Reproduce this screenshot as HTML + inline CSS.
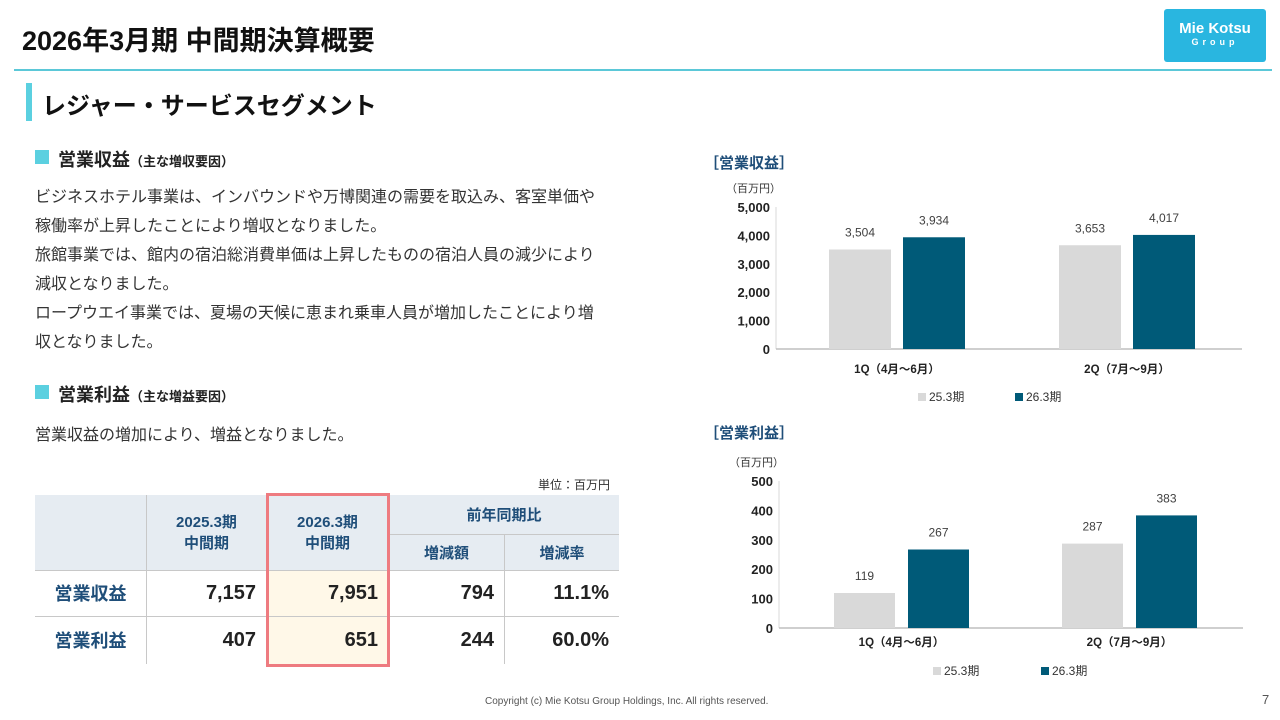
<!DOCTYPE html>
<html><head><meta charset="utf-8"><style>
body{margin:0;width:1280px;height:720px;overflow:hidden;background:#fff;font-family:"Liberation Sans","Noto Sans CJK JP",sans-serif;position:relative;color:#222}
.a{position:absolute;white-space:nowrap}
table{border-collapse:collapse;position:absolute;left:35px;top:495px;font-family:"Liberation Sans","Noto Sans CJK JP",sans-serif}
td{padding:0 10px;border:1px solid #c8c8c8;vertical-align:middle}
</style></head><body>
<div class="a" style="left:22px;top:19px;font-size:27px;font-weight:bold;color:#111">2026年3月期 中間期決算概要</div>
<div class="a" style="left:1164px;top:9px;width:102px;height:53px;background:#29b6e0;border-radius:3px;color:#fff;text-align:center">
<div style="font-size:15px;font-weight:bold;margin-top:11px">Mie Kotsu</div><div style="font-size:9px;letter-spacing:4px;font-weight:bold">Group</div></div>
<div class="a" style="left:14px;top:69px;width:1258px;height:2px;background:#5bc8d8"></div>
<div class="a" style="left:26px;top:83px;width:6px;height:38px;background:#5bd0e0"></div>
<div class="a" style="left:42px;top:86px;font-size:24px;font-weight:bold;color:#111">レジャー・サービスセグメント</div>

<div class="a" style="left:35px;top:150px;width:14px;height:14px;background:#5bd0e0"></div>
<div class="a" style="left:58px;top:146px;font-size:18px;font-weight:bold">営業収益<span style="font-size:13px">（主な増収要因）</span></div>
<div class="a" style="left:35px;top:183px;font-size:16px;line-height:29px;color:#333">ビジネスホテル事業は、インバウンドや万博関連の需要を取込み、客室単価や<br>稼働率が上昇したことにより増収となりました。<br>旅館事業では、館内の宿泊総消費単価は上昇したものの宿泊人員の減少により<br>減収となりました。<br>ロープウエイ事業では、夏場の天候に恵まれ乗車人員が増加したことにより増<br>収となりました。</div>
<div class="a" style="left:35px;top:385px;width:14px;height:14px;background:#5bd0e0"></div>
<div class="a" style="left:58px;top:381px;font-size:18px;font-weight:bold">営業利益<span style="font-size:13px">（主な増益要因）</span></div>
<div class="a" style="left:35px;top:421px;font-size:16px;color:#333">営業収益の増加により、増益となりました。</div>
<div class="a" style="left:538px;top:476px;font-size:12px;color:#333">単位：百万円</div>

<table>
<tr style="height:39px;background:#e6ecf2;color:#1f4e79;font-weight:bold;font-size:15px;text-align:center">
<td rowspan="2" style="width:91px;border-left:none;border-top:none"></td>
<td rowspan="2" style="width:99px;border-top:none">2025.3期<br>中間期</td>
<td rowspan="2" style="width:101px;border-top:none">2026.3期<br>中間期</td>
<td colspan="2" style="border-top:none;border-right:none">前年同期比</td></tr>
<tr style="height:36px;background:#e6ecf2;color:#1f4e79;font-weight:bold;font-size:15px;text-align:center">
<td style="width:95px">増減額</td><td style="width:94px;border-right:none">増減率</td></tr>
<tr style="height:46px;font-size:20px;font-weight:bold;text-align:right">
<td style="color:#1f4e79;text-align:center;border-left:none;font-size:18px">営業収益</td><td>7,157</td><td style="background:#fff8e8">7,951</td><td>794</td><td style="border-right:none">11.1%</td></tr>
<tr style="height:48px;font-size:20px;font-weight:bold;text-align:right">
<td style="color:#1f4e79;text-align:center;border-left:none;border-bottom:none;font-size:18px">営業利益</td><td style="border-bottom:none">407</td><td style="background:#fff8e8;border-bottom:none">651</td><td style="border-bottom:none">244</td><td style="border-right:none;border-bottom:none">60.0%</td></tr>
</table>
<div class="a" style="left:266px;top:493px;width:118px;height:168px;border:3px solid #ee7b80"></div>

<div class="a" style="left:485px;top:696px;font-size:10px;color:#555">Copyright (c) Mie Kotsu Group Holdings, Inc. All rights reserved.</div>
<div class="a" style="left:1262px;top:692px;font-size:13px;color:#555">7</div>

<svg id="c" width="1280" height="720" style="position:absolute;left:0;top:0" font-family="Liberation Sans, Noto Sans CJK JP, sans-serif"></svg>
<script>
const categories=["1Q（4月～6月）","2Q（7月～9月）"];
const seriesNames=["25.3期","26.3期"];
const revPrev=[3504,3653];
const revCur=[3934,4017];
const revTicks=[0,1000,2000,3000,4000,5000];
const opPrev=[119,287];
const opCur=[267,383];
const opTicks=[0,100,200,300,400,500];
const colors=["#d9d9d9","#005a78"];
const svg=document.getElementById('c');
const NS='http://www.w3.org/2000/svg';
function el(t,a,txt){const e=document.createElementNS(NS,t);for(const k in a)e.setAttribute(k,a[k]);if(txt!==undefined)e.textContent=txt;svg.appendChild(e);return e;}
function chart(cfg){
  const {title,ty,y0,y1,max,ticks,x0,x1,groupX,bw,gap,prev,cur,catY,legY,legX,name}=cfg;
  const yS=v=>y0-(v/max)*(y0-y1);
  let t=el('text',{x:704,y:ty,'font-size':15,'font-weight':'bold',fill:'#1f4e79'},title);
  
  t=el('text',{x:x0-50,y:y1-15,'font-size':11,fill:'#333'},'（百万円）');
  
  ticks.forEach(v=>{const e=el('text',{x:x0-6,y:yS(v)+5,'font-size':13,'font-weight':'bold','text-anchor':'end',fill:'#222'},v.toLocaleString('en-US'));
    });
  let l=el('line',{x1:x0,x2:x0,y1:y1,y2:y0,stroke:'#d9d9d9'});
  l=el('line',{x1:x0,x2:x1,y1:y0,y2:y0,stroke:'#bfbfbf','stroke-width':1.5});
  categories.forEach((c,i)=>{
    [prev[i],cur[i]].forEach((v,s)=>{
      const x=groupX[i]+s*(bw+gap);
      const r=el('rect',{x:x,y:yS(v),width:bw,height:y0-yS(v),fill:colors[s]});
      
      const tx=el('text',{x:x+bw/2,y:yS(v)-13,'font-size':12,'text-anchor':'middle',fill:'#404040'},v.toLocaleString('en-US'));
      
    });
    const ct=el('text',{x:groupX[i]+bw+gap/2,y:catY,'font-size':11.5,'font-weight':'bold','text-anchor':'middle',fill:'#222'},c);
    
  });
  seriesNames.forEach((n,s)=>{
    const r=el('rect',{x:legX[s],y:legY-8,width:8,height:8,fill:colors[s]});
    
    const tx=el('text',{x:legX[s]+11,y:legY,'font-size':12,fill:'#333'},n);
    
  });
}
chart({name:'revenue',title:'［営業収益］',ty:168,y0:349,y1:207,max:5000,ticks:revTicks,x0:776,x1:1242,groupX:[829,1059],bw:62,gap:12,prev:revPrev,cur:revCur,catY:373,legY:401,legX:[918,1015]});
chart({name:'profit',title:'［営業利益］',ty:438,y0:628,y1:481,max:500,ticks:opTicks,x0:779,x1:1243,groupX:[834,1062],bw:61,gap:13,prev:opPrev,cur:opCur,catY:646,legY:675,legX:[933,1041]});
</script>
</body></html>
